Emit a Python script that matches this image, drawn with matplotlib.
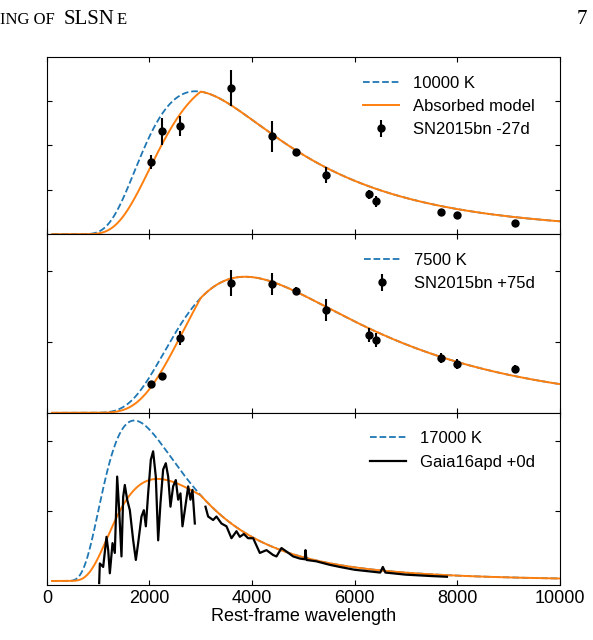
import numpy as np
import matplotlib.pyplot as plt

plt.rcParams['font.family'] = ['Liberation Sans', 'DejaVu Sans']

# photometry (rest-frame wavelength in A, scaled flux)
wl_phot = [2030, 2240, 2590, 3590, 4390, 4850, 5450, 6280, 6410, 7680, 7990, 9120]
f_early = [1.62, 2.31, 2.43, 3.28, 2.20, 1.84, 1.33, 0.90, 0.74, 0.49, 0.43, 0.25]
e_early = [0.15, 0.30, 0.22, 0.40, 0.35, 0.08, 0.18, 0.10, 0.12, 0.08, 0.06, 0.05]
f_late = [0.41, 0.52, 1.06, 1.83, 1.82, 1.72, 1.45, 1.10, 1.03, 0.77, 0.69, 0.62]
e_late = [0.04, 0.04, 0.10, 0.18, 0.16, 0.05, 0.15, 0.10, 0.10, 0.07, 0.07, 0.06]

# Gaia16apd spectrum
wl_spec = [1020, 1033, 1098, 1163, 1196, 1228, 1280, 1325, 1371, 1410, 1455, 1488,
           1520, 1566, 1618, 1683, 1735, 1780, 1845, 1891, 1930, 1975, 2027, 2072,
           2124, 2170, 2215, 2267, 2319, 2365, 2410, 2462, 2514, 2560, 2605, 2644,
           2690, 2755, 2800, 2839, 2885, 2990, 3093, 3144, 3242, 3307, 3404, 3502,
           3599, 3697, 3762, 3840, 3924, 4022, 4152, 4282, 4412, 4477, 4574, 4672,
           4802, 4932, 5029, 5042, 5062, 5257, 5517, 5712, 6000, 6500, 6550, 6600,
           7000, 7500, 7800]
f_spec = [-0.03, 0.25, 0.20, 0.63, 0.44, 0.11, 0.54, 0.40, 1.49, 1.01, 0.35, 1.20,
          1.37, 1.16, 1.01, 0.58, 0.30, 0.54, 0.92, 1.01, 0.78, 1.25, 1.73, 1.85,
          1.49, 0.58, 1.11, 1.59, 1.68, 1.49, 1.06, 1.35, 1.44, 1.16, 1.25, 0.78,
          1.01, 1.35, 1.16, 1.30, 0.82, np.nan, 1.06, 0.92, 0.87, 0.92, 0.82, 0.78,
          0.61, 0.71, 0.63, 0.67, 0.61, 0.61, 0.40, 0.44, 0.37, 0.35, 0.47, 0.42,
          0.35, 0.32, 0.31, 0.44, 0.30, 0.28, 0.23, 0.20, 0.16, 0.12, 0.20, 0.12,
          0.09, 0.07, 0.06]

# model temperatures and peak heights of the blackbodies
temps = [10000, 7500, 17000]
peaks = [3.21, 1.92, 2.29]
labels_bb = ['10000 K', '7500 K', '17000 K']


def planck(lam, T):
    x = 1.4388e8 / (lam * T)
    return lam ** -5.0 / np.expm1(x)


def absorbed(lam, T):
    '''blackbody with flux suppressed linearly below 3000 A'''
    return planck(lam, T) * np.minimum(1.0, lam / 3000.)


lam = np.linspace(100, 10000, 2000)

fig = plt.figure(figsize=(5.93, 6.4), dpi=100)
boxes = [(0.634, 0.277), (0.355, 0.279), (0.086, 0.269)]
ylims = [(0, 3.98), (0, 2.52), (-0.057, 2.4)]
yticks = [[1, 2, 3], [1, 2], [1, 2]]

axes = []
for i, (b, h) in enumerate(boxes):
    ax = fig.add_axes([0.079, b, 0.865, h])
    T = temps[i]
    norm = peaks[i] / planck(lam, T).max()
    ax.plot(lam, planck(lam, T) * norm, '--', color='#1f77b4', lw=1.3, label=labels_bb[i])
    lab = 'Absorbed model' if i == 0 else None
    ax.plot(lam, absorbed(lam, T) * norm, '-', color='#ff7f0e', lw=1.4, label=lab)
    if i == 0:
        ax.errorbar(wl_phot, f_early, yerr=e_early, fmt='o', color='k', ms=5,
                    elinewidth=1.5, label='SN2015bn -27d')
    elif i == 1:
        ax.errorbar(wl_phot, f_late, yerr=e_late, fmt='o', color='k', ms=5,
                    elinewidth=1.5, label='SN2015bn +75d')
    else:
        ax.plot(wl_spec, f_spec, '-', color='k', lw=1.6, label='Gaia16apd +0d')
    ax.set_xlim(0, 10000)
    ax.set_ylim(*ylims[i])
    ax.set_yticks(yticks[i])
    ax.set_yticklabels([])
    ax.set_xticks(range(0, 10001, 2000))
    ax.tick_params(direction='in', top=True, right=True, labelsize=13)
    if i < 2:
        ax.set_xticklabels([])
    ax.legend(loc='upper right', frameon=False, fontsize=12, handlelength=2.2,
              bbox_to_anchor=(0.98, 0.98))
    axes.append(ax)

axes[2].set_xlabel('Rest-frame wavelength', fontsize=13, labelpad=1)

# page header
fig.text(0.0, 0.962, 'ING OF', family='Liberation Serif', fontsize=12)
fig.text(0.108, 0.962, 'SLSN', family='Liberation Serif', fontsize=15)
fig.text(0.196, 0.962, 'E', family='Liberation Serif', fontsize=12)
fig.text(0.972, 0.962, '7', family='Liberation Serif', fontsize=15)

fig.savefig('out.png', dpi=100)
